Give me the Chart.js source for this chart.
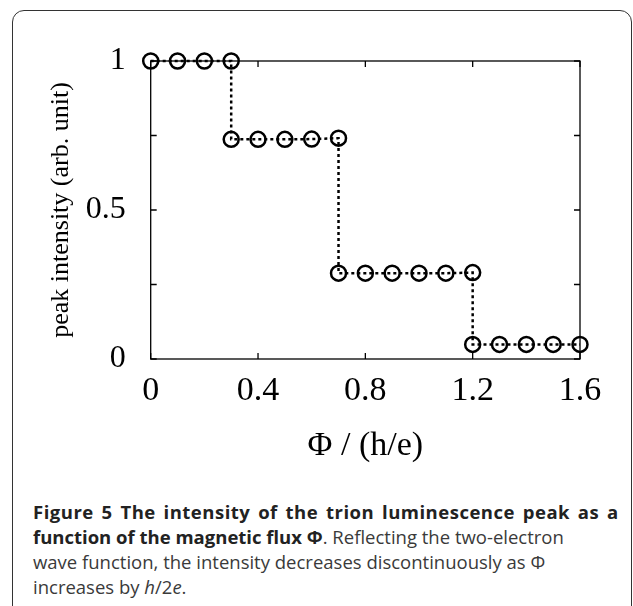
<!DOCTYPE html>
<html>
<head>
<meta charset="utf-8">
<script src="https://cdn.jsdelivr.net/npm/chart.js@4.4.1/dist/chart.umd.min.js"></script>
<style>
  html, body { margin: 0; padding: 0; background: #fff; }
  body { width: 633px; height: 606px; position: relative; overflow: hidden; }
  #frame {
    position: absolute; left: 12px; top: 10px; width: 620px; height: 700px;
    border: 1.5px solid #333; border-radius: 12px; box-sizing: border-box;
  }
  #wrap { position: absolute; left: 0; top: 0; width: 633px; height: 470px; }
  #caption {
    position: absolute; left: 33px; top: 499px; width: 600px;
    font-family: "Open Sans", sans-serif; font-size: 18.5px; line-height: 25px;
    color: #3a3a3a; white-space: nowrap;
  }
  #caption b { font-weight: 700; color: #222; }
  #caption .l1 { letter-spacing: 0.5px; word-spacing: 2.5px; }
</style>
</head>
<body>
<div id="frame"></div>
<div id="wrap"><canvas id="chart" width="633" height="470"></canvas></div>
<div id="caption"><b class="l1">Figure 5 The intensity of the trion luminescence peak as a</b><br><b>function of the magnetic flux Φ</b>. Reflecting the two-electron<br>wave function, the intensity decreases discontinuously as Φ<br>increases by <i>h</i>/2<i>e</i>.</div>
<script>
// flux values (h/e) and measured peak intensity, step points repeated at the jumps
const phi = [0, 0.1, 0.2, 0.3, 0.3, 0.4, 0.5, 0.6, 0.7, 0.7, 0.8, 0.9, 1.0, 1.1, 1.2, 1.2, 1.3, 1.4, 1.5, 1.6];
const intensity = [1, 1, 1, 1, 0.737, 0.737, 0.737, 0.738, 0.741, 0.288, 0.288, 0.288, 0.288, 0.288, 0.29, 0.049, 0.049, 0.049, 0.049, 0.049];
const xTickLabels = ['0', '0.4', '0.8', '1.2', '1.6'];
const yTickLabels = {0: '0', 0.5: '0.5', 1: '1'};

const points = phi.map((x, i) => ({x: x, y: intensity[i]}));

const serif = '"Liberation Serif", "DejaVu Serif", serif';

// box around the plot with small inward ticks on all four sides
const frameBox = {
    id: 'frameBox',
    afterDatasetsDraw(chart) {
        const ctx = chart.ctx;
        const a = chart.chartArea;
        const xs = chart.scales.x, ys = chart.scales.y;
        const len = 6;
        ctx.save();
        ctx.strokeStyle = '#000';
        ctx.lineWidth = 1.3;
        ctx.strokeRect(a.left, a.top, a.right - a.left, a.bottom - a.top);
        ctx.beginPath();
        xs.ticks.forEach(t => {
            const px = xs.getPixelForValue(t.value);
            ctx.moveTo(px, a.bottom); ctx.lineTo(px, a.bottom - len);
            ctx.moveTo(px, a.top); ctx.lineTo(px, a.top + len);
        });
        ys.ticks.forEach(t => {
            const py = ys.getPixelForValue(t.value);
            ctx.moveTo(a.left, py); ctx.lineTo(a.left + len, py);
            ctx.moveTo(a.right, py); ctx.lineTo(a.right - len, py);
        });
        ctx.stroke();
        ctx.restore();
    }
};

new Chart(document.getElementById('chart'), {
    type: 'scatter',
    data: {
        datasets: [{
            data: points,
            showLine: true,
            clip: false,
            borderColor: '#000',
            borderWidth: 2.5,
            borderDash: [3, 3],
            pointStyle: 'circle',
            pointRadius: 7.5,
            pointBorderWidth: 2.5,
            pointBorderColor: '#000',
            pointBackgroundColor: 'rgba(0,0,0,0)'
        }]
    },
    options: {
        responsive: false,
        animation: false,
        layout: { padding: { left: 0, top: 61, right: 53, bottom: 0 } },
        plugins: { legend: { display: false }, tooltip: { enabled: false } },
        scales: {
            x: {
                type: 'linear', min: 0, max: 1.6,
                grid: { display: false },
                border: { display: false },
                ticks: {
                    stepSize: 0.4, padding: 4, color: '#000',
                    font: { family: serif, size: 34 },
                    callback: (v, i) => xTickLabels[i]
                },
                title: {
                    display: true, text: 'Φ / (h/e)', color: '#000',
                    font: { family: serif, size: 34 }, padding: { top: 14 }
                },
                afterFit: s => { s.height = 111; }
            },
            y: {
                type: 'linear', min: 0, max: 1,
                grid: { display: false },
                border: { display: false },
                ticks: {
                    stepSize: 0.25, padding: 17, color: '#000',
                    font: { family: serif, size: 32 },
                    callback: v => (yTickLabels[v] !== undefined ? yTickLabels[v] : '')
                },
                title: {
                    display: true, text: 'peak intensity (arb. unit)', color: '#000',
                    font: { family: serif, size: 26 }, padding: { top: 46, bottom: 0 }
                },
                afterFit: s => { s.width = 150.7; }
            }
        }
    },
    plugins: [frameBox]
});
</script>
</body>
</html>
